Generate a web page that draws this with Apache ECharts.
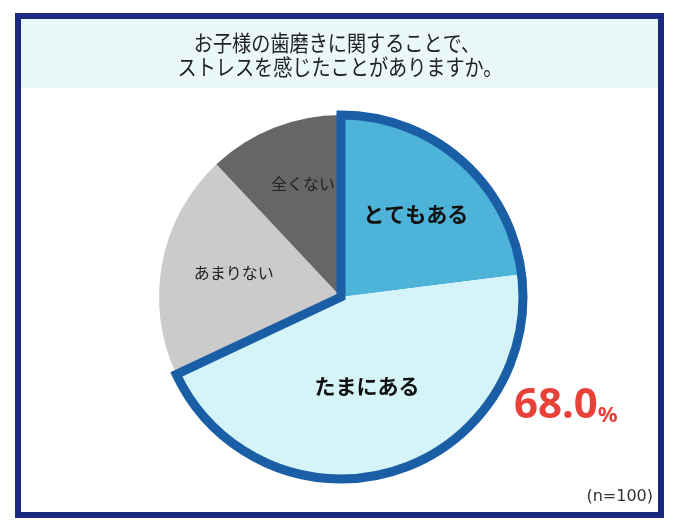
<!DOCTYPE html>
<html>
<head>
<meta charset="utf-8">
<script src="https://cdn.jsdelivr.net/npm/echarts@6/dist/echarts.min.js"></script>
<style>
  html, body { margin: 0; padding: 0; background: #fff; }
  #main { width: 680px; height: 531px; }
</style>
</head>
<body>
<div id="main"></div>
<script>
// データ
const titleLines = ['お子様の歯磨きに関することで、', 'ストレスを感じたことがありますか。'];
const categories = ['とてもある', 'たまにある', 'あまりない', '全くない'];
const values = [23, 45, 20, 12];
const sliceColors = ['#4db3d8', '#d5f4f7', '#cbcbcb', '#666666'];
const highlightCount = 2;   // 「とてもある」+「たまにある」を青枠で囲む
const sampleNote = '(n=100)';

const CX = 341, CY = 297, R = 182;
// ラベルの半径位置 (半径に対する比率)
const labelRatio = [0.57, 0.49, 0.61, 0.64];

const total = values.reduce((a, b) => a + b, 0);
const hlSum = values.slice(0, highlightCount).reduce((a, b) => a + b, 0);
const hlPct = (hlSum / total * 100).toFixed(1);

const myChart = echarts.init(document.getElementById('main'));

const pieData = categories.map((name, i) => ({
    name: name,
    value: values[i],
    itemStyle: { color: sliceColors[i] },
    label: i < highlightCount
        ? { fontSize: 21, fontWeight: 'bold', color: '#111' }
        : { fontSize: 16, fontWeight: 'normal', color: '#222' }
}));

const option = {
    animation: false,
    graphic: [
        {   // 外枠
            type: 'rect', z: 0,
            shape: { x: 18, y: 16, width: 643, height: 499 },
            style: { fill: '#fff', stroke: '#1b2a80', lineWidth: 6 }
        },
        {   // タイトル帯
            type: 'rect', z: 1,
            shape: { x: 21, y: 19, width: 637, height: 69 },
            style: { fill: '#eaf8fa' }
        },
        {
            type: 'text', z: 2, x: 337, y: 43, scaleX: 0.87,
            style: {
                text: titleLines[0], fill: '#222', fontSize: 22,
                fontFamily: '"Noto Sans CJK JP"', align: 'center', verticalAlign: 'middle'
            }
        },
        {
            type: 'text', z: 2, x: 340, y: 67, scaleX: 0.87,
            style: {
                text: titleLines[1], fill: '#222', fontSize: 22,
                fontFamily: '"Noto Sans CJK JP"', align: 'center', verticalAlign: 'middle'
            }
        },
        {   // 68.0%
            type: 'text', z: 5, x: 514, y: 404,
            style: {
                text: '{n|' + hlPct + '}{p|%}',
                align: 'left', verticalAlign: 'middle',
                rich: {
                    n: { fontSize: 42, fontWeight: 'bold', fill: '#e8413a', fontFamily: '"Noto Sans", sans-serif', lineHeight: 46, verticalAlign: 'bottom' },
                    p: { fontSize: 22, fontWeight: 'bold', fill: '#e8413a', fontFamily: '"Noto Sans", sans-serif', lineHeight: 40, verticalAlign: 'bottom' }
                }
            }
        },
        {
            type: 'text', z: 5, x: 653, y: 497,
            style: {
                text: sampleNote, fill: '#333', fontSize: 16,
                fontFamily: '"DejaVu Sans", sans-serif', align: 'right', verticalAlign: 'middle'
            }
        }
    ],
    series: [
        {
            type: 'pie',
            center: [CX, CY],
            radius: [0, R],
            startAngle: 90,
            clockwise: true,
            silent: true,
            z: 3,
            itemStyle: { borderWidth: 0 },
            label: {
                show: true,
                position: 'inner',
                fontFamily: '"Noto Sans CJK JP"',
                formatter: '{b}'
            },
            labelLine: { show: false },
            labelLayout: function (p) {
                const r = p.rect;
                const dx = r.x + r.width / 2 - CX;
                const dy = r.y + r.height / 2 - CY;
                const k = labelRatio[p.dataIndex] / 0.5 - 1;
                // 全くない は少し右寄り
                const shift = p.dataIndex === 3 ? 14 : (p.dataIndex === 2 ? 5 : 0);
                return { dx: dx * k + shift, dy: dy * k };
            },
            data: pieData
        },
        {   // 青枠 (68%)
            type: 'pie',
            center: [CX, CY],
            radius: [0, R],
            startAngle: 90,
            clockwise: true,
            silent: true,
            z: 4,
            label: { show: false },
            labelLine: { show: false },
            data: [
                { value: hlSum, itemStyle: { color: 'rgba(0,0,0,0)', borderColor: '#1a5ea6', borderWidth: 9, borderJoin: 'miter' } },
                { value: total - hlSum, itemStyle: { color: 'rgba(0,0,0,0)', borderWidth: 0 } }
            ]
        }
    ]
};

myChart.setOption(option);
window.addEventListener('resize', () => {
    myChart.resize();
});
</script>
</body>
</html>
